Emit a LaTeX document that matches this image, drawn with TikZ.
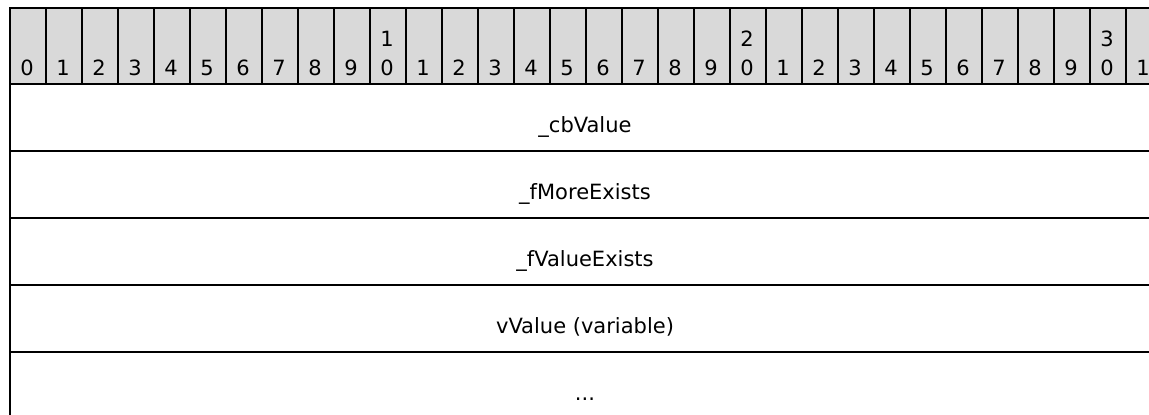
\documentclass[tikz,border=0pt]{standalone}
\usepackage{fontspec}
\setmainfont{DejaVu Sans}
\definecolor{hdrgray}{HTML}{D9D9D9}
\begin{document}
\begin{tikzpicture}[x=1pt,y=-1pt,
  cellbox/.style={draw=black, line width=2pt, fill=hdrgray, minimum width=36pt, minimum height=76pt, inner sep=0pt, anchor=north west},
  rowbox/.style={draw=black, line width=2pt, minimum width=1152pt, minimum height=67pt, inner sep=0pt, anchor=north west},
  lastbox/.style={rowbox, minimum height=100pt},
  digit/.style={anchor=base, inner sep=0pt, font=\fontsize{21}{25}\selectfont},
  rowtext/.style={anchor=base, inner sep=0pt, font=\fontsize{21}{25}\selectfont}]
\useasboundingbox (0,0) rectangle (1149,415);
\clip (0,0) rectangle (1149,415);
% header cells
\foreach \i in {0,...,31}{
  \node[cellbox] (h\i) at ({9+36*\i},7) {};
}
\foreach \i in {0,...,31}{
  \pgfmathtruncatemacro{\tens}{\i/10}
  \pgfmathtruncatemacro{\units}{\i-10*\tens}
  \node[digit] (d\i) at ({27+36*\i},75) {\units};
  \ifnum\i>0 \ifnum\units=0
    \node[digit] (dt\i) at ({27+36*\i},46) {\tens};
  \fi\fi
}
% rows
\node[rowbox] (r1) at (9,83) {};
\node[rowbox] (r2) at (9,150) {};
\node[rowbox] (r3) at (9,217) {};
\node[rowbox] (r4) at (9,284) {};
\node[lastbox] (r5) at (9,351) {};
\node[rowtext] (t1) at (585,132) {\_cbValue};
\node[rowtext] (t2) at (585,199) {\_fMoreExists};
\node[rowtext] (t3) at (585,266) {\_fValueExists};
\node[rowtext] (t4) at (585,333) {vValue (variable)};
\node[rowtext] (t5) at (585,400) {...};
\end{tikzpicture}
\end{document}
